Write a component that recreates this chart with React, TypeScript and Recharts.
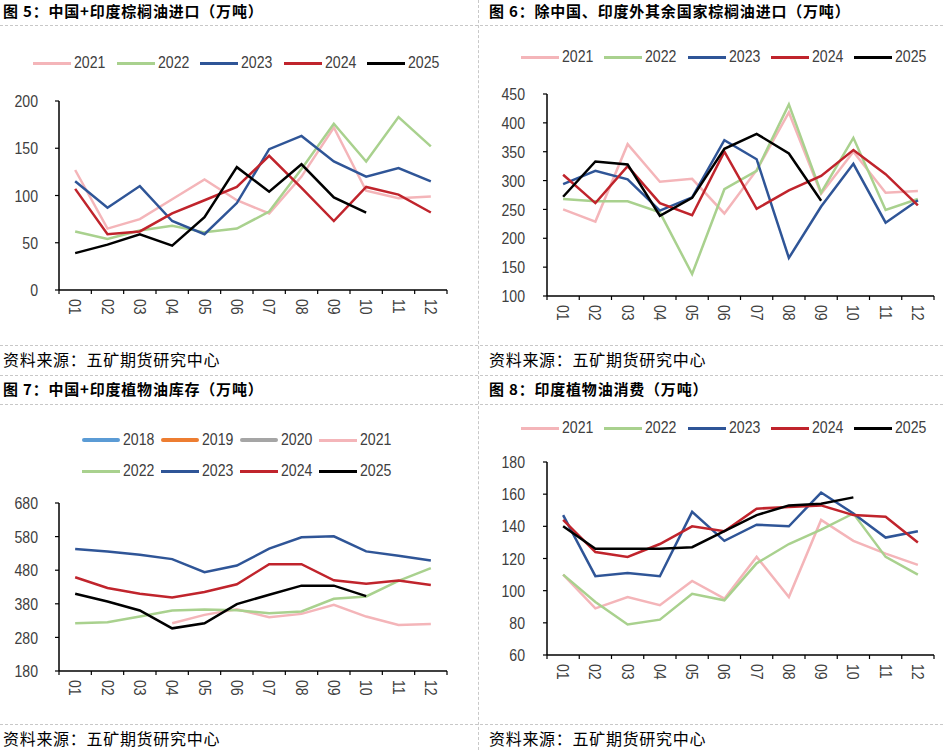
import React from 'react';
import { LineChart, Line, XAxis, YAxis } from 'recharts';

// 月份
const MONTHS = ['01', '02', '03', '04', '05', '06', '07', '08', '09', '10', '11', '12'];

const COLORS: Record<string, string> = {
  '2018': '#5B9BD5',
  '2019': '#ED7D31',
  '2020': '#A5A5A5',
  '2021': '#F4B5B9',
  '2022': '#A9D18E',
  '2023': '#2F5597',
  '2024': '#C0242C',
  '2025': '#000000',
};

// 图5 中国+印度棕榈油进口
const palmCnIn2021 = [127, 65, 75, 96, 117, 95, 81, 120, 172, 105, 97, 99];
const palmCnIn2022 = [62, 54, 63, 68, 61, 65, 83, 128, 176, 136, 183, 152];
const palmCnIn2023 = [115, 87, 110, 73, 59, 92, 149, 163, 136, 120, 129, 115];
const palmCnIn2024 = [107, 59, 62, 81, 95, 109, 142, 108, 73, 109, 101, 82];
const palmCnIn2025 = [39, 48, 59, 47, 77, 130, 104, 133, 98, 82];

// 图6 除中国、印度外其余国家棕榈油进口
const palmRest2021 = [250, 229, 363, 298, 303, 243, 318, 418, 277, 350, 279, 282];
const palmRest2022 = [268, 264, 264, 245, 138, 285, 317, 432, 279, 374, 249, 268];
const palmRest2023 = [294, 317, 302, 248, 271, 370, 337, 166, 255, 329, 227, 266];
const palmRest2024 = [310, 261, 325, 261, 240, 350, 251, 283, 308, 353, 311, 257];
const palmRest2025 = [272, 333, 328, 239, 270, 355, 381, 347, 265];

// 图7 中国+印度植物油库存
const stock2021 = [null, null, null, 322, 347, 364, 340, 350, 377, 342, 317, 320];
const stock2022 = [322, 325, 342, 360, 363, 361, 352, 357, 395, 402, 448, 486];
const stock2023 = [543, 536, 526, 513, 474, 494, 544, 578, 581, 536, 523, 509];
const stock2024 = [459, 427, 410, 399, 415, 438, 498, 498, 450, 440, 449, 436];
const stock2025 = [410, 387, 360, 307, 322, 379, 407, 434, 434, 403];

// 图8 印度植物油消费
const cons2021 = [110, 89, 96, 91, 106, 95, 121, 96, 144, 131, 123, 116];
const cons2022 = [110, 93, 79, 82, 98, 94, 117, 129, 138, 148, 121, 110];
const cons2023 = [147, 109, 111, 109, 149, 131, 141, 140, 161, 148, 133, 137];
const cons2024 = [144, 124, 121, 129, 140, 137, 151, 152, 153, 147, 146, 130];
const cons2025 = [140, 126, 126, 126, 127, 137, 147, 153, 154, 158];

const TICK_FONT = '"Liberation Sans", Arial, sans-serif';
const CJK_FONT = '"Noto Sans CJK SC", "Noto Sans", sans-serif';
const TEXT_GRAY = '#404040';

type SeriesMap = Record<string, (number | null)[]>;

function buildRows(series: SeriesMap) {
  return MONTHS.map((m, i) => {
    const row: Record<string, number | string | null> = { x: i + 1, month: m };
    Object.keys(series).forEach((k) => {
      const v = series[k][i];
      row[k] = v === undefined ? null : v;
    });
    return row;
  });
}

const X_TICKS = [0.5, 1.5, 2.5, 3.5, 4.5, 5.5, 6.5, 7.5, 8.5, 9.5, 10.5, 11.5, 12.5];

function makeXTick(band: number) {
  return (props: any) => {
    const { x, y, payload } = props;
    const idx = payload.value - 0.5;
    if (idx >= MONTHS.length) return <g />;
    return (
      <text
        transform={`translate(${x + band / 2},${y}) rotate(90) scale(0.83,1)`}
        textAnchor="start"
        dominantBaseline="central"
        fontSize={17}
        fontFamily={TICK_FONT}
        fill={TEXT_GRAY}
      >
        {MONTHS[idx]}
      </text>
    );
  };
}

const YTick = (props: any) => {
  const { x, y, payload } = props;
  return (
    <text
      transform={`translate(${x},${y}) scale(0.83,1)`}
      textAnchor="end"
      dy="0.36em"
      fontSize={17}
      fontFamily={TICK_FONT}
      fill={TEXT_GRAY}
    >
      {payload.value}
    </text>
  );
};

interface LegendRow {
  years: string[];
  x: number;
  y: number;
  step: number;
}

function LegendItems({ rows, thick }: { rows: LegendRow[]; thick?: string[] }) {
  return (
    <>
      {rows.map((row, r) =>
        row.years.map((yr, i) => {
          const heavy = thick?.includes(yr);
          return (
            <div
              key={`${r}-${yr}`}
              style={{
                position: 'absolute',
                left: row.x + i * row.step,
                top: row.y - 10,
                height: 20,
                display: 'flex',
                alignItems: 'center',
                whiteSpace: 'nowrap',
              }}
            >
              <div
                style={{
                  width: 38,
                  height: heavy ? 4 : 3,
                  background: COLORS[yr],
                  borderRadius: heavy ? 2 : 0,
                }}
              />
              <span
                style={{
                  marginLeft: 3,
                  fontSize: 17,
                  lineHeight: '20px',
                  fontFamily: TICK_FONT,
                  color: TEXT_GRAY,
                  display: 'inline-block',
                  transform: 'scaleX(0.83)',
                  transformOrigin: 'left center',
                }}
              >
                {yr}
              </span>
            </div>
          );
        })
      )}
    </>
  );
}

interface PanelProps {
  left: number;
  top: number;
  width: number;
  height: number;
  title: string;
  titleX: number;
  titleY: number;
  sourceY: number;
  plot: { l: number; t: number; r: number; b: number };
  yDomain: [number, number];
  yTicks: number[];
  yMargin: number;
  series: SeriesMap;
  legend: LegendRow[];
  thick?: string[];
}

function Panel(p: PanelProps) {
  const rows = buildRows(p.series);
  const band = (p.plot.r - p.plot.l) / 12;
  const XTick = makeXTick(band);
  return (
    <div style={{ position: 'absolute', left: p.left, top: p.top, width: p.width, height: p.height }}>
      <div
        style={{
          position: 'absolute',
          left: p.titleX,
          top: p.titleY - 10,
          lineHeight: '20px',
          fontSize: 15,
          fontWeight: 'bold',
          letterSpacing: 0.8,
          fontFamily: CJK_FONT,
          color: '#000',
          whiteSpace: 'nowrap',
        }}
      >
        {p.title}
      </div>
      <div style={{ position: 'absolute', left: 0, top: 0 }}>
        <LineChart
          width={p.width}
          height={p.height}
          data={rows}
          margin={{ top: p.plot.t, right: p.width - p.plot.r, bottom: 0, left: 0 }}
        >
          <XAxis
            dataKey="x"
            type="number"
            domain={[0.5, 12.5]}
            ticks={X_TICKS}
            interval={0}
            height={p.height - p.plot.b}
            tick={XTick}
            tickSize={4}
            tickMargin={5}
            axisLine={{ stroke: '#000', strokeWidth: 1.5 }}
            tickLine={{ stroke: '#000', strokeWidth: 1.2 }}
          />
          <YAxis
            type="number"
            domain={p.yDomain}
            ticks={p.yTicks}
            interval={0}
            width={p.plot.l}
            tick={YTick}
            tickSize={4}
            tickMargin={p.yMargin}
            axisLine={{ stroke: '#000', strokeWidth: 1.5 }}
            tickLine={{ stroke: '#000', strokeWidth: 1.2 }}
          />
          {Object.keys(p.series).map((yr) => (
            <Line
              key={yr}
              dataKey={yr}
              type="linear"
              stroke={COLORS[yr]}
              strokeWidth={2.5}
              dot={false}
              activeDot={false}
              connectNulls={false}
              isAnimationActive={false}
            />
          ))}
        </LineChart>
      </div>
      <LegendItems rows={p.legend} thick={p.thick} />
      <div
        style={{
          position: 'absolute',
          left: p.titleX,
          top: p.sourceY - 10,
          lineHeight: '20px',
          fontSize: 16,
          letterSpacing: 0.7,
          fontFamily: CJK_FONT,
          color: '#000',
          whiteSpace: 'nowrap',
        }}
      >
        资料来源：五矿期货研究中心
      </div>
    </div>
  );
}

const hLine = (y: number) => (
  <div
    key={`h${y}`}
    style={{ position: 'absolute', left: 0, top: y, width: 943, borderTop: '1px dashed #C8C8C8' }}
  />
);

const YEARS5 = ['2021', '2022', '2023', '2024', '2025'];

export default function App() {
  return (
    <div
      style={{
        position: 'absolute',
        left: 0,
        top: 0,
        width: 943,
        height: 750,
        background: '#fff',
        overflow: 'hidden',
      }}
    >
      {[25, 345, 375, 404, 724].map(hLine)}
      <div
        style={{ position: 'absolute', left: 478, top: 0, height: 750, borderLeft: '1px dashed #C8C8C8' }}
      />
      <Panel
        left={0}
        top={0}
        width={470}
        height={375}
        title="图 5：中国+印度棕榈油进口（万吨）"
        titleX={3}
        titleY={11}
        sourceY={359}
        plot={{ l: 59, t: 101, r: 447, b: 290 }}
        yDomain={[0, 200]}
        yTicks={[0, 50, 100, 150, 200]}
        yMargin={17}
        series={{
          '2021': palmCnIn2021,
          '2022': palmCnIn2022,
          '2023': palmCnIn2023,
          '2024': palmCnIn2024,
          '2025': palmCnIn2025,
        }}
        legend={[{ years: YEARS5, x: 33, y: 63, step: 83.5 }]}
      />
      <Panel
        left={472}
        top={0}
        width={471}
        height={375}
        title="图 6：除中国、印度外其余国家棕榈油进口（万吨）"
        titleX={17}
        titleY={11}
        sourceY={359}
        plot={{ l: 75, t: 94, r: 462, b: 296 }}
        yDomain={[100, 450]}
        yTicks={[100, 150, 200, 250, 300, 350, 400, 450]}
        yMargin={18}
        series={{
          '2021': palmRest2021,
          '2022': palmRest2022,
          '2023': palmRest2023,
          '2024': palmRest2024,
          '2025': palmRest2025,
        }}
        legend={[{ years: YEARS5, x: 49, y: 57, step: 83.25 }]}
      />
      <Panel
        left={0}
        top={375}
        width={470}
        height={375}
        title="图 7：中国+印度植物油库存（万吨）"
        titleX={3}
        titleY={14}
        sourceY={363}
        plot={{ l: 59, t: 128, r: 447, b: 296 }}
        yDomain={[180, 680]}
        yTicks={[180, 280, 380, 480, 580, 680]}
        yMargin={17}
        series={{
          '2021': stock2021,
          '2022': stock2022,
          '2023': stock2023,
          '2024': stock2024,
          '2025': stock2025,
        }}
        legend={[
          { years: ['2018', '2019', '2020', '2021'], x: 82, y: 65, step: 79 },
          { years: ['2022', '2023', '2024', '2025'], x: 82, y: 96, step: 79 },
        ]}
        thick={['2018', '2019', '2020']}
      />
      <Panel
        left={472}
        top={375}
        width={471}
        height={375}
        title="图 8：印度植物油消费（万吨）"
        titleX={17}
        titleY={14}
        sourceY={363}
        plot={{ l: 75, t: 87, r: 462, b: 280 }}
        yDomain={[60, 180]}
        yTicks={[60, 80, 100, 120, 140, 160, 180]}
        yMargin={18}
        series={{
          '2021': cons2021,
          '2022': cons2022,
          '2023': cons2023,
          '2024': cons2024,
          '2025': cons2025,
        }}
        legend={[{ years: YEARS5, x: 49, y: 53, step: 83.25 }]}
      />
    </div>
  );
}
